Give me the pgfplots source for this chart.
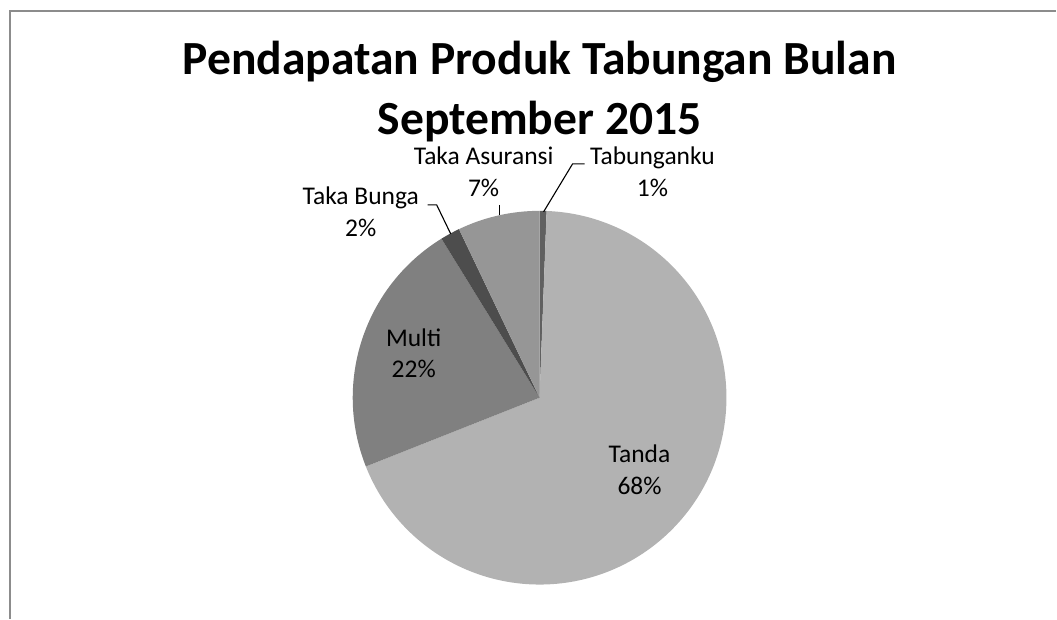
\documentclass[border=0pt]{standalone}
\usepackage{pgfplots}
\usepackage{pgfplotstable}
\pgfplotsset{compat=1.18}
\usepackage{fontspec}
\setmainfont{Carlito}

% share of each product, % (clockwise from 12 o'clock)
\pgfplotstableread[col sep=comma]{
name,value
Tabunganku,0.6
Tanda,68.4
Multi,22.2
Taka Bunga,1.7
Taka Asuransi,7.1
}\piedata

\definecolor{col0}{HTML}{606060}
\definecolor{col1}{HTML}{B2B2B2}
\definecolor{col2}{HTML}{808080}
\definecolor{col3}{HTML}{4D4D4D}
\definecolor{col4}{HTML}{969696}

\def\cumang{90}
\foreach \i in {0,...,4}{%
  \pgfplotstablegetelem{\i}{value}\of\piedata
  \pgfmathsetmacro\endang{\cumang-3.6*\pgfplotsretval}%
  \expandafter\xdef\csname sA\i\endcsname{\cumang}%
  \expandafter\xdef\csname sB\i\endcsname{\endang}%
  \xdef\cumang{\endang}%
}

\begin{document}
\begin{tikzpicture}
\begin{axis}[
    width=1057bp, height=619bp,
    scale only axis,
    xmin=0, xmax=1057, ymin=0, ymax=619,
    hide axis,
    clip=false,
]
\path (axis cs:0,0) rectangle (axis cs:1057,619);
% chart frame
\draw[black!45, line width=1.6bp] (axis cs:10,0) -- (axis cs:10,608) -- (axis cs:1057,608);

% slices
\pgfplotsinvokeforeach{0,...,4}{
  \fill[col#1] (axis cs:540,221) -- ++(\csname sA#1\endcsname:187bp)
    arc[start angle=\csname sA#1\endcsname, end angle=\csname sB#1\endcsname, radius=187bp] -- cycle;
}

% title
\node[anchor=base, inner sep=0, font=\fontsize{47.6bp}{56bp}\selectfont\bfseries] at (axis cs:540,544) {Pendapatan Produk Tabungan Bulan};
\node[anchor=base, inner sep=0, font=\fontsize{47.6bp}{56bp}\selectfont\bfseries] at (axis cs:540,484) {September 2015};

% data labels
\tikzset{lbl/.style={anchor=base, inner sep=0, font=\fontsize{25.5bp}{30bp}\selectfont}}
\node[lbl] at (axis cs:640,156) {Tanda};
\node[lbl] at (axis cs:640,124) {68\%};
\node[lbl] at (axis cs:414,272) {Multi};
\node[lbl] at (axis cs:414,241) {22\%};
\node[lbl] at (axis cs:361,414) {Taka Bunga};
\node[lbl] at (axis cs:361,382) {2\%};
\node[lbl] at (axis cs:484,454) {Taka Asuransi};
\node[lbl] at (axis cs:484,422) {7\%};
\node[lbl] at (axis cs:653,454) {Tabunganku};
\node[lbl] at (axis cs:653,422) {1\%};

% leader lines
\draw[black, line width=1.1bp] (axis cs:585,455) -- (axis cs:573,455) -- (axis cs:544,407);
\draw[black, line width=1.1bp] (axis cs:500,414) -- (axis cs:500,404);
\draw[black, line width=1.1bp] (axis cs:428,414) -- (axis cs:437,414) -- (axis cs:451,385);
\end{axis}
\end{tikzpicture}
\end{document}
